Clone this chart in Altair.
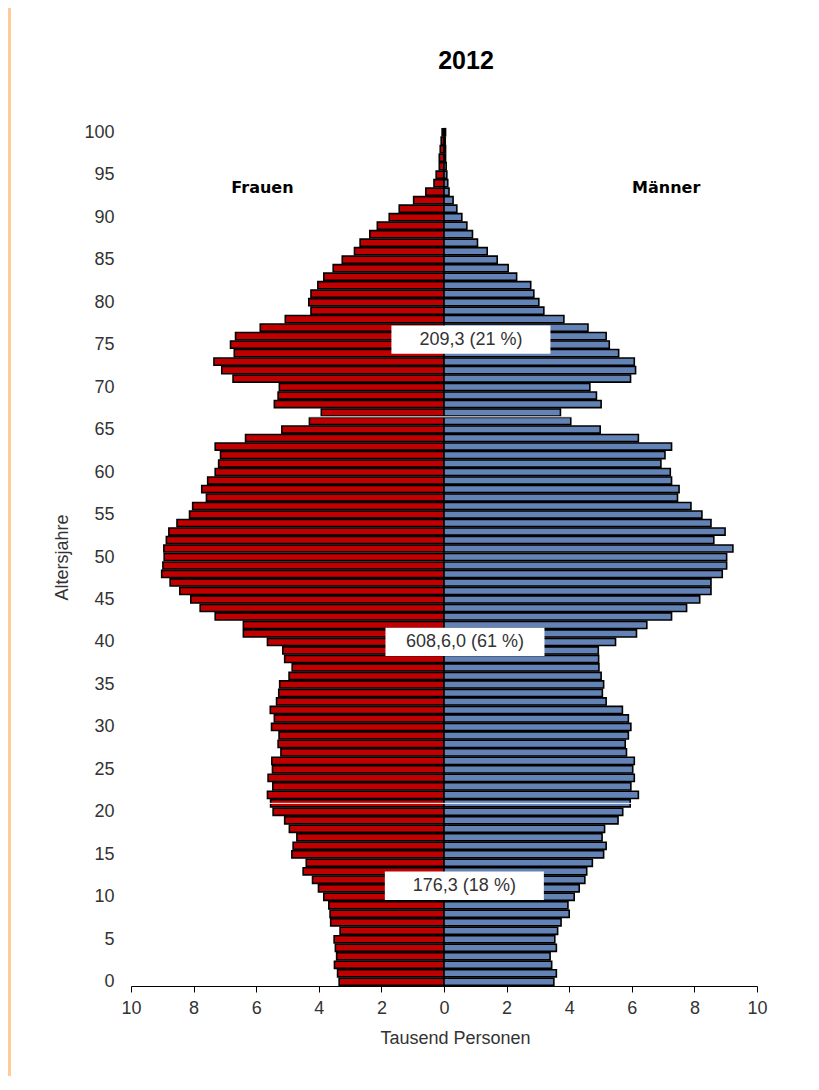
import altair as alt
import pandas as pd

# ---------------- data (Tausend Personen) ----------------
ages = list(range(101))
women = [3.35, 3.40, 3.50, 3.43, 3.47, 3.51, 3.32, 3.62, 3.64, 3.68,
         3.84, 4.01, 4.20, 4.50, 4.40, 4.86, 4.82, 4.70, 4.94, 5.09,
         5.46, 5.54, 5.64, 5.47, 5.62, 5.48, 5.50, 5.21, 5.30, 5.27,
         5.51, 5.42, 5.55, 5.35, 5.28, 5.25, 4.95, 4.85, 5.09, 5.15,
         5.64, 6.41, 6.41, 7.31, 7.79, 8.09, 8.44, 8.75, 9.02, 8.98,
         8.94, 8.95, 8.87, 8.79, 8.53, 8.13, 8.03, 7.59, 7.74, 7.55,
         7.31, 7.20, 7.14, 7.31, 6.34, 5.18, 4.30, 3.92, 5.42, 5.30,
         5.26, 6.74, 7.10, 7.35, 6.70, 6.82, 6.66, 5.87, 5.07, 4.25,
         4.32, 4.25, 4.03, 3.84, 3.54, 3.25, 2.86, 2.68, 2.37, 2.13,
         1.75, 1.43, 0.97, 0.58, 0.32, 0.25, 0.15, 0.15, 0.12, 0.09,
         0.06]
men = [3.51, 3.59, 3.44, 3.39, 3.59, 3.54, 3.63, 3.74, 4.00, 3.96,
       4.16, 4.32, 4.50, 4.56, 4.74, 5.10, 5.18, 5.05, 5.13, 5.56,
       5.71, 5.95, 6.21, 5.97, 6.08, 6.03, 6.08, 5.83, 5.79, 5.89,
       5.97, 5.89, 5.70, 5.18, 5.06, 5.10, 5.02, 4.95, 4.94, 4.93,
       5.48, 6.15, 6.48, 7.27, 7.75, 8.17, 8.53, 8.53, 8.89, 9.03,
       9.03, 9.23, 8.62, 8.98, 8.53, 8.24, 7.89, 7.46, 7.51, 7.27,
       7.23, 6.93, 7.06, 7.27, 6.21, 4.99, 4.05, 3.72, 5.02, 4.87,
       4.66, 5.96, 6.12, 6.08, 5.58, 5.28, 5.18, 4.60, 3.83, 3.19,
       3.03, 2.87, 2.77, 2.32, 2.05, 1.70, 1.38, 1.07, 0.91, 0.73,
       0.57, 0.41, 0.29, 0.16, 0.12, 0.09, 0.07, 0.05, 0.05, 0.04,
       0.05]

sexes = ["Frauen", "Männer"]
group_labels = ["176,3 (18 %)", "608,6,0 (61 %)", "209,3 (21 %)"]
group_label_age = [11.3, 40.0, 75.6]
group_label_pos = [0.65, 0.67, 0.86]
gap_ages = [21, 66.5]
side_label_age = [93.4, 93.4]
side_label_pos = [-5.8, 7.1]
x_ticks = list(range(-10, 11, 2))
y_ticks = list(range(0, 101, 5))
chart_title = "2012"

# ---------------- styles ----------------
RED = "#C00000"
BLUE = "#6382B5"
FONT = "Liberation Sans, Arial, sans-serif"
TXT = "#333333"

rows = []
for a, w, m in zip(ages, women, men):
    rows.append({"age": a, "sex": "Frauen", "value": w, "signed": -w})
    rows.append({"age": a, "sex": "Männer", "value": m, "signed": m})
df = pd.DataFrame(rows)

X_SCALE = alt.Scale(domain=[-10, 10], nice=False, zero=False)
Y_SCALE = alt.Scale(domain=[-0.5, 100.5], nice=False, zero=False)

x_axis = alt.Axis(
    values=x_ticks, labelExpr="abs(datum.value)", grid=False, labelFlush=False,
    domainColor="black", tickColor="black", tickSize=6, labelPadding=7,
    labelFont=FONT, labelFontSize=18, labelColor=TXT,
    titleFont=FONT, titleFontSize=18, titleFontWeight="normal",
    titleColor=TXT, titlePadding=12, titleX=324,
)
y_axis = alt.Axis(
    values=y_ticks, grid=False, domain=False, ticks=False, labelPadding=17,
    labelFlush=False,
    labelFont=FONT, labelFontSize=18, labelColor=TXT,
    titleFont=FONT, titleFontSize=18, titleFontWeight="normal",
    titleColor=TXT, titlePadding=12,
)
X_TITLE = "Tausend Personen"
Y_TITLE = "Altersjahre"


def xenc(field):
    return alt.X(field, scale=X_SCALE, axis=x_axis, title=X_TITLE)


def yenc(field):
    return alt.Y(field, scale=Y_SCALE, axis=y_axis, title=Y_TITLE)


bars = alt.Chart(df).transform_calculate(
    lo="datum.age - 0.42", hi="datum.age + 0.42", zero="0"
).mark_rect(stroke="black", strokeWidth=1.6).encode(
    x=xenc("signed:Q"),
    x2="zero:Q",
    y=yenc("lo:Q"),
    y2="hi:Q",
    color=alt.Color("sex:N", scale=alt.Scale(domain=sexes, range=[RED, BLUE]), legend=None),
)

gaps = alt.Chart(pd.DataFrame({"age": gap_ages})).mark_rule(color="white").encode(
    y=yenc("age:Q"),
    strokeWidth=alt.StrokeWidth(
        "age:N", scale=alt.Scale(domain=[str(g) for g in gap_ages], range=[5.6, 3.6]), legend=None
    ),
)

lab_df = pd.DataFrame({"label": group_labels, "age": group_label_age, "pos": group_label_pos})
BOX = "M-1,-0.178L1,-0.178L1,0.178L-1,0.178Z"
boxes = alt.Chart(lab_df).mark_point(
    shape=BOX, size=25280, filled=True, fill="white", opacity=1, strokeWidth=0
).encode(x=xenc("pos:Q"), y=yenc("age:Q"))

box_text = alt.Chart(lab_df).mark_text(
    font=FONT, fontSize=18, color=TXT, align="center", baseline="middle"
).encode(x=xenc("pos:Q"), y=yenc("age:Q"), text="label:N")

side_df = pd.DataFrame({"label": sexes, "age": side_label_age, "pos": side_label_pos})
side_text = alt.Chart(side_df).mark_text(
    font="DejaVu Sans, Verdana, sans-serif", fontWeight="bold", fontSize=16,
    color="black", align="center", baseline="middle"
).encode(x=xenc("pos:Q"), y=yenc("age:Q"), text="label:N")

title_text = alt.Chart(pd.DataFrame({"t": [chart_title]})).mark_text(
    font=FONT, fontSize=25, fontWeight="bold", color="black",
    align="center", baseline="alphabetic",
).encode(x=alt.value(335), y=alt.value(-59), text="t:N")

strip = alt.Chart(pd.DataFrame({"k": [0]})).mark_rect(color="#FFCC99").encode(
    x=alt.value(-123), x2=alt.value(-120), y=alt.value(-120), y2=alt.value(962)
)

chart = alt.layer(bars, gaps, boxes, box_text, side_text, title_text, strip).properties(
    width=626,
    height=858,
    autosize=alt.AutoSizeParams(type="none"),
    padding={"left": 123, "top": 120, "right": 52, "bottom": 90},
    background="white",
).configure_view(stroke=None)

chart.save("out.html", embed_options={"renderer": "svg", "actions": False})
